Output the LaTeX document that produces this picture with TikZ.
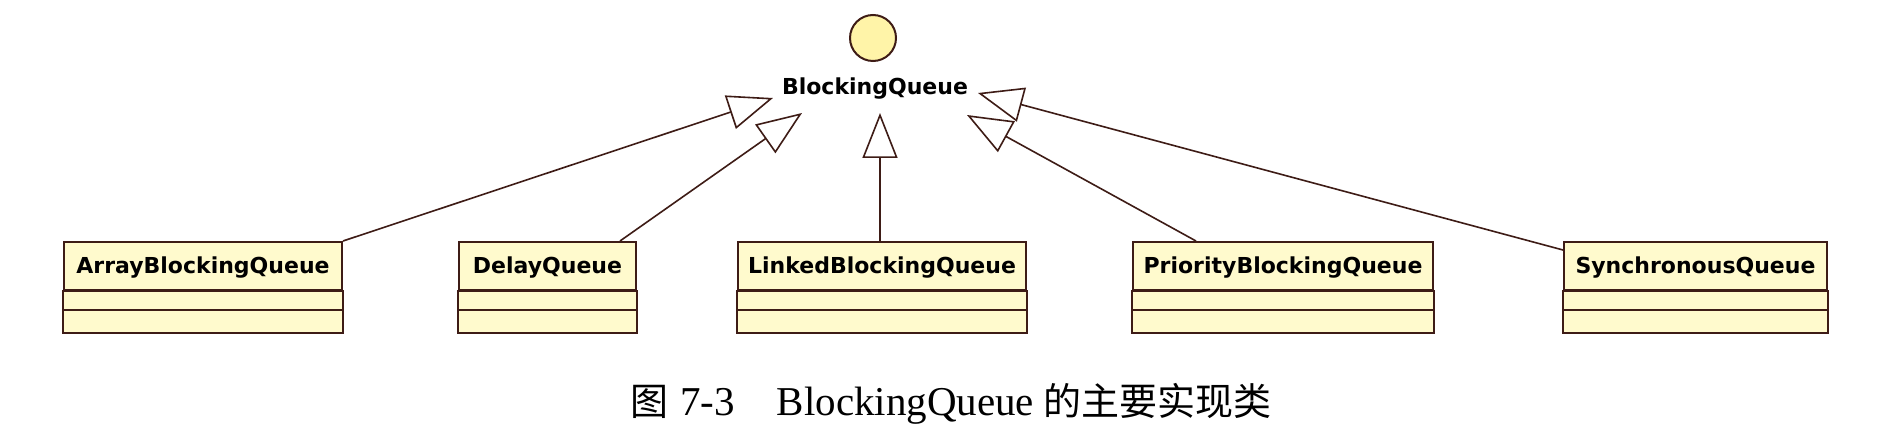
\documentclass[tikz,border=0pt]{standalone}
\usepackage{fontspec}
\setmainfont{Liberation Serif}
\newfontfamily\umlfont{DejaVu Sans}
\newfontfamily\cjk{Noto Sans CJK SC}
\usetikzlibrary{arrows.meta}
\definecolor{boxfill}{RGB}{255,250,205}
\definecolor{circfill}{RGB}{255,244,168}
\definecolor{edge}{RGB}{62,28,22}
\begin{document}
\begin{tikzpicture}[x=1pt,y=-1pt,
  cls/.style={draw=edge, line width=2pt, fill=boxfill, inner sep=0pt,
    minimum height=48pt, anchor=north west, text height=16pt, text depth=0pt,
    font=\umlfont\bfseries\fontsize{22}{26}\selectfont},
  comp/.style={draw=edge, line width=2pt, fill=boxfill},
  impl/.style={draw=edge, line width=1.6pt,
    -{Triangle[open, length=45pt, width=35pt, line width=1.6pt]}},
  lbl/.style={font=\umlfont\bfseries\fontsize{22}{26}\selectfont, inner sep=0pt}]
\useasboundingbox (0,0) rectangle (1888,438);
\fill[white] (0,0) rectangle (1888,438);

% interface
\node[circle, draw=edge, line width=2pt, fill=circfill, minimum size=46pt, inner sep=0pt] (iface) at (873,38) {};
\node[lbl, anchor=base] (bq) at (875,95) {BlockingQueue};

% classes
\node[cls, minimum width=278pt] (arr) at (63,241) {ArrayBlockingQueue};
\node[cls, minimum width=177pt] (del) at (458,241) {DelayQueue};
\node[cls, minimum width=288pt] (lnk) at (737,241) {LinkedBlockingQueue};
\node[cls, minimum width=300pt] (pri) at (1132,241) {PriorityBlockingQueue};
\node[cls, minimum width=263pt] (syn) at (1563,241) {SynchronousQueue};
\foreach \n in {arr,del,lnk,pri,syn}{
  \draw[comp] (\n.south west) rectangle (\n.south east |- 0,310);
  \draw[comp] (\n.south west |- 0,310) rectangle (\n.south east |- 0,333);
}

% triangle tips
\coordinate (tA) at (773,98);
\coordinate (tB) at (802,113);
\coordinate (tC) at (880,113);
\coordinate (tD) at (967,115);
\coordinate (tE) at (978,93);

\draw[impl] (arr.north east) -- (tA);
\draw[impl] ([xshift=-17pt]del.north east) -- (tB);
\draw[impl] (lnk.north -| tC) -- (tC);
\draw[impl] ([xshift=64pt]pri.north west) -- (tD);
\draw[impl] ([yshift=-9pt]syn.north west) -- (tE);

% caption
\node[anchor=base west, inner sep=0pt, font=\fontsize{41}{44}\selectfont] (cap) at (630,415)
  {{\cjk\fontsize{38}{40}\selectfont 图}\hspace{12pt}7-3\hspace{42pt}BlockingQueue\hspace{9pt}{\cjk\fontsize{38}{40}\selectfont 的主要实现类}};
\end{tikzpicture}
\end{document}
